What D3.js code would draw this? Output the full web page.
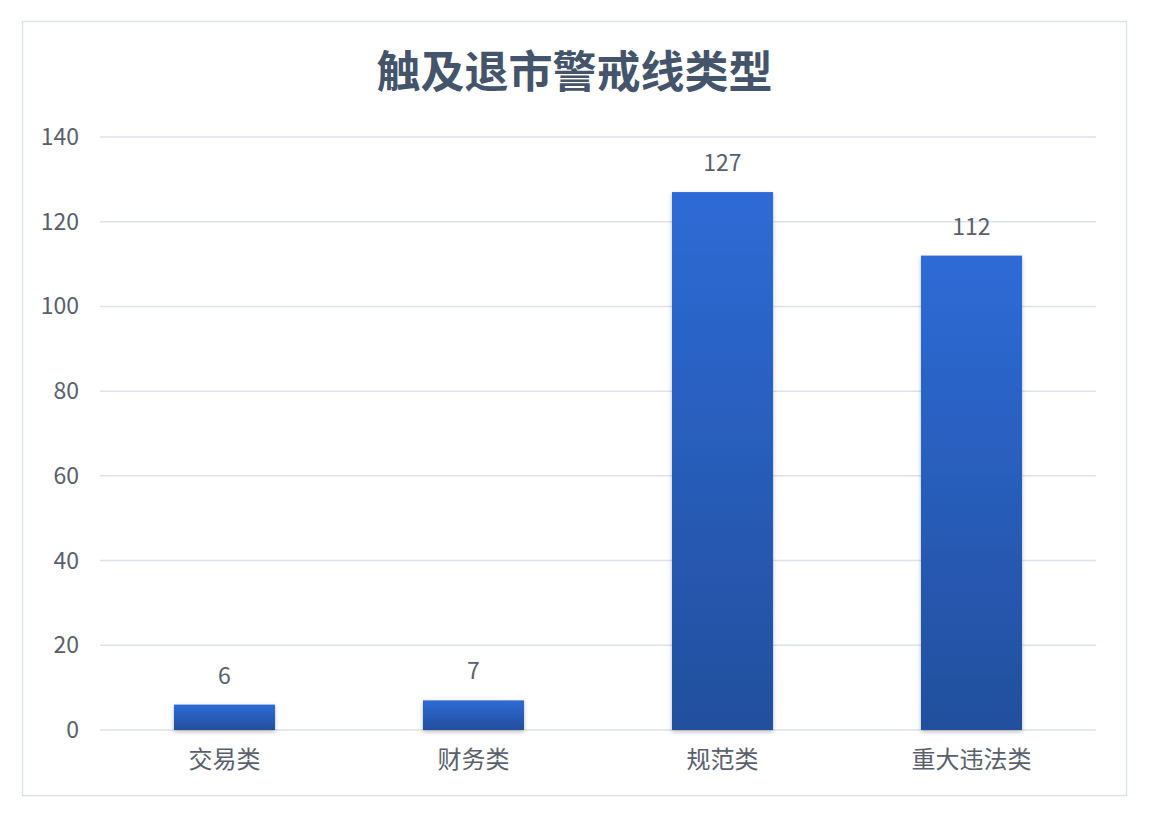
<!DOCTYPE html>
<html>
<head>
<meta charset="utf-8">
<script src="https://cdn.jsdelivr.net/npm/d3@7"></script>
<style>
  body { margin: 0; background: #fff; }
  text { font-family: "Noto Sans CJK SC", "Noto Sans", sans-serif; }
</style>
</head>
<body>
<div id="chart"></div>
<script>
// chart data
const categories = ["交易类", "财务类", "规范类", "重大违法类"];
const counts = [6, 7, 127, 112];
const yTicks = [0, 20, 40, 60, 80, 100, 120, 140];
const title = "触及退市警戒线类型";

const width = 1149, height = 816;
const margin = { top: 137, right: 53, bottom: 86, left: 100 };

const svg = d3.select("#chart").append("svg")
    .attr("width", width)
    .attr("height", height);

// bar gradient + soft shadow
const defs = svg.append("defs");
const grad = defs.append("linearGradient")
    .attr("id", "barGrad")
    .attr("x1", 0).attr("y1", 0).attr("x2", 0).attr("y2", 1);
grad.append("stop").attr("offset", "0%").attr("stop-color", "#2e6bd6");
grad.append("stop").attr("offset", "100%").attr("stop-color", "#224f9d");

const shadow = defs.append("filter").attr("id", "shadow")
    .attr("x", "-20%").attr("y", "-20%").attr("width", "140%").attr("height", "140%");
shadow.append("feDropShadow")
    .attr("dx", 0).attr("dy", 2).attr("stdDeviation", 2)
    .attr("flood-color", "#000").attr("flood-opacity", 0.25);

// outer frame
svg.append("rect")
    .attr("x", 22.5).attr("y", 21.5)
    .attr("width", 1104).attr("height", 774)
    .attr("fill", "#fff")
    .attr("stroke", "#dde2ea")
    .attr("stroke-width", 1.5);

svg.append("text")
    .attr("x", 574.5).attr("y", 88)
    .attr("text-anchor", "middle")
    .style("font-size", "44px")
    .style("font-weight", "bold")
    .style("fill", "#44546a")
    .text(title);

const x = d3.scaleBand()
    .domain(categories)
    .range([margin.left, width - margin.right])
    .paddingInner(0.594)
    .paddingOuter(0.297);

const y = d3.scaleLinear()
    .domain([0, 140])
    .range([height - margin.bottom, margin.top]);

// gridlines
svg.append("g")
    .selectAll("line")
    .data(yTicks)
    .enter().append("line")
    .attr("x1", margin.left)
    .attr("x2", width - margin.right)
    .attr("y1", d => y(d))
    .attr("y2", d => y(d))
    .attr("stroke", "#dde2ea")
    .attr("stroke-width", 1.5);

// y tick labels
svg.append("g")
    .selectAll("text")
    .data(yTicks)
    .enter().append("text")
    .attr("x", 79)
    .attr("y", d => y(d))
    .attr("dy", "0.35em")
    .attr("text-anchor", "end")
    .style("font-size", "23px")
    .style("fill", "#595f6c")
    .text(d => d);

// bars
svg.append("g")
    .selectAll("rect")
    .data(counts)
    .enter().append("rect")
    .attr("x", (d, i) => x(categories[i]))
    .attr("y", d => y(d))
    .attr("width", x.bandwidth())
    .attr("height", d => y(0) - y(d))
    .attr("fill", "url(#barGrad)")
    .attr("filter", "url(#shadow)");

// value labels
svg.append("g")
    .selectAll("text")
    .data(counts)
    .enter().append("text")
    .attr("x", (d, i) => x(categories[i]) + x.bandwidth() / 2)
    .attr("y", d => y(d) - 21)
    .attr("text-anchor", "middle")
    .style("font-size", "23px")
    .style("fill", "#595f6c")
    .text(d => d);

// category labels
svg.append("g")
    .selectAll("text")
    .data(categories)
    .enter().append("text")
    .attr("x", d => x(d) + x.bandwidth() / 2)
    .attr("y", 760)
    .attr("dy", "0.35em")
    .attr("text-anchor", "middle")
    .style("font-size", "24px")
    .style("fill", "#595f6c")
    .text(d => d);
</script>
</body>
</html>
